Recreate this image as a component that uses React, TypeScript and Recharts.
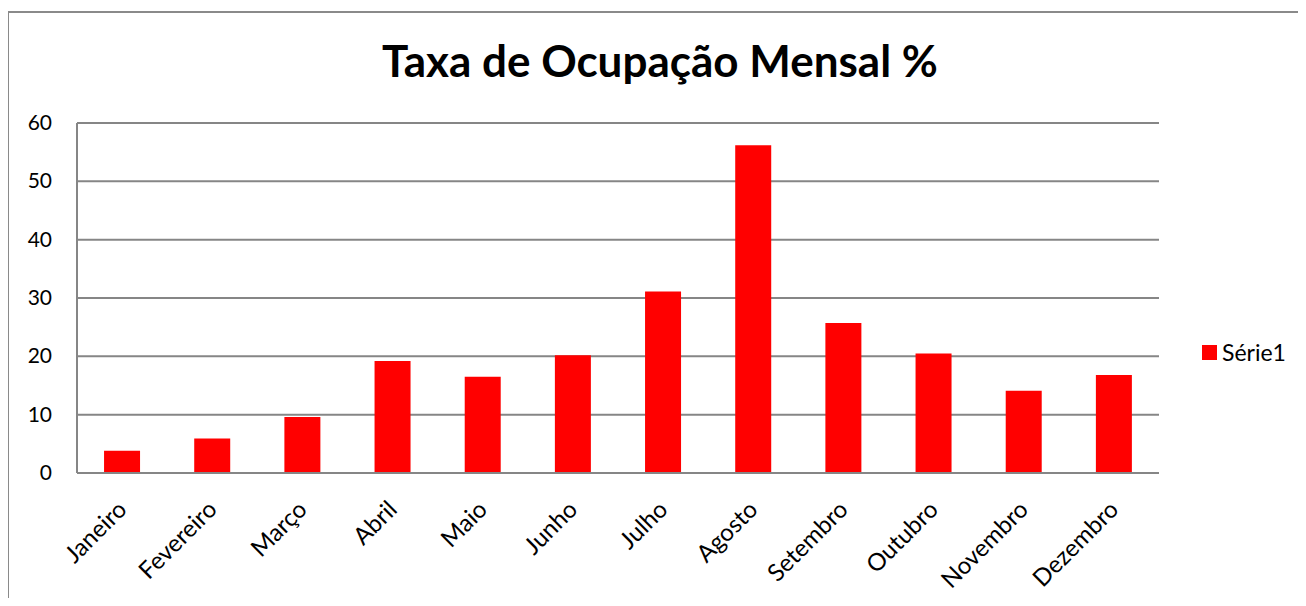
import React from 'react';
import { BarChart, Bar, XAxis, YAxis, CartesianGrid, Legend } from 'recharts';

const months = ['Janeiro', 'Fevereiro', 'Março', 'Abril', 'Maio', 'Junho', 'Julho', 'Agosto', 'Setembro', 'Outubro', 'Novembro', 'Dezembro'];
const serie1 = [3.8, 5.9, 9.6, 19.2, 16.5, 20.2, 31.1, 56.2, 25.7, 20.5, 14.1, 16.8];
const yTicks = [0, 10, 20, 30, 40, 50, 60];

const data = months.map((m, i) => ({ month: m, 'Série1': serie1[i] }));

const FONT = 'Lato, "Open Sans", sans-serif';

const XTick = (props: any) => {
  const { x, y, payload } = props;
  const ax = x + 6;
  const ay = y + 30;
  return (
    <text x={ax} y={ay} transform={`rotate(-45, ${ax}, ${ay})`} textAnchor="end" fontSize={24} fontFamily={FONT} fill="#000">
      {payload.value}
    </text>
  );
};

const YTick = (props: any) => {
  const { x, y, payload } = props;
  return (
    <text x={x - 19} y={y} dy={7} textAnchor="end" fontSize={21} fontFamily={FONT} fill="#000">
      {payload.value}
    </text>
  );
};

const renderLegend = () => (
  <div style={{ display: 'flex', alignItems: 'center', fontFamily: FONT, fontSize: 23, color: '#000', width: 100, height: 24 }}>
    <div style={{ width: 15, height: 15, background: '#FF0000', marginRight: 5 }} />
    <span>Série1</span>
  </div>
);

export default function App() {
  return (
    <div style={{ position: 'relative', width: 1306, height: 606, margin: -8, background: '#fff', overflow: 'hidden' }}>
      <div style={{ position: 'absolute', left: 7, top: 11, width: 1306, height: 606, borderTop: '2px solid #8a8a8a', borderLeft: '2px solid #8a8a8a', boxSizing: 'border-box' }} />
      <div style={{ position: 'absolute', left: 14, top: 34, width: 1292, textAlign: 'center', fontFamily: FONT, fontWeight: 700, fontSize: 44, color: '#000', lineHeight: '52px' }}>
        Taxa de Ocupação Mensal %
      </div>
      <div style={{ position: 'absolute', left: 0, top: 0 }}>
        <BarChart width={1306} height={606} data={data} margin={{ top: 123, right: 47, bottom: 0, left: 0 }} barCategoryGap="30%">
          <CartesianGrid vertical={false} stroke="#868686" strokeWidth={2} />
          <XAxis dataKey="month" height={133} tick={<XTick />} tickLine={false} axisLine={{ stroke: '#868686', strokeWidth: 2 }} interval={0} />
          <YAxis width={77} domain={[0, 60]} ticks={yTicks} tick={<YTick />} tickLine={false} axisLine={{ stroke: '#868686', strokeWidth: 2 }} tickMargin={0} />
          <Legend layout="vertical" align="right" verticalAlign="top" content={renderLegend} wrapperStyle={{ left: 1202, top: 340, width: 100 }} />
          <Bar dataKey="Série1" fill="#FF0000" isAnimationActive={false} />
        </BarChart>
      </div>
    </div>
  );
}
